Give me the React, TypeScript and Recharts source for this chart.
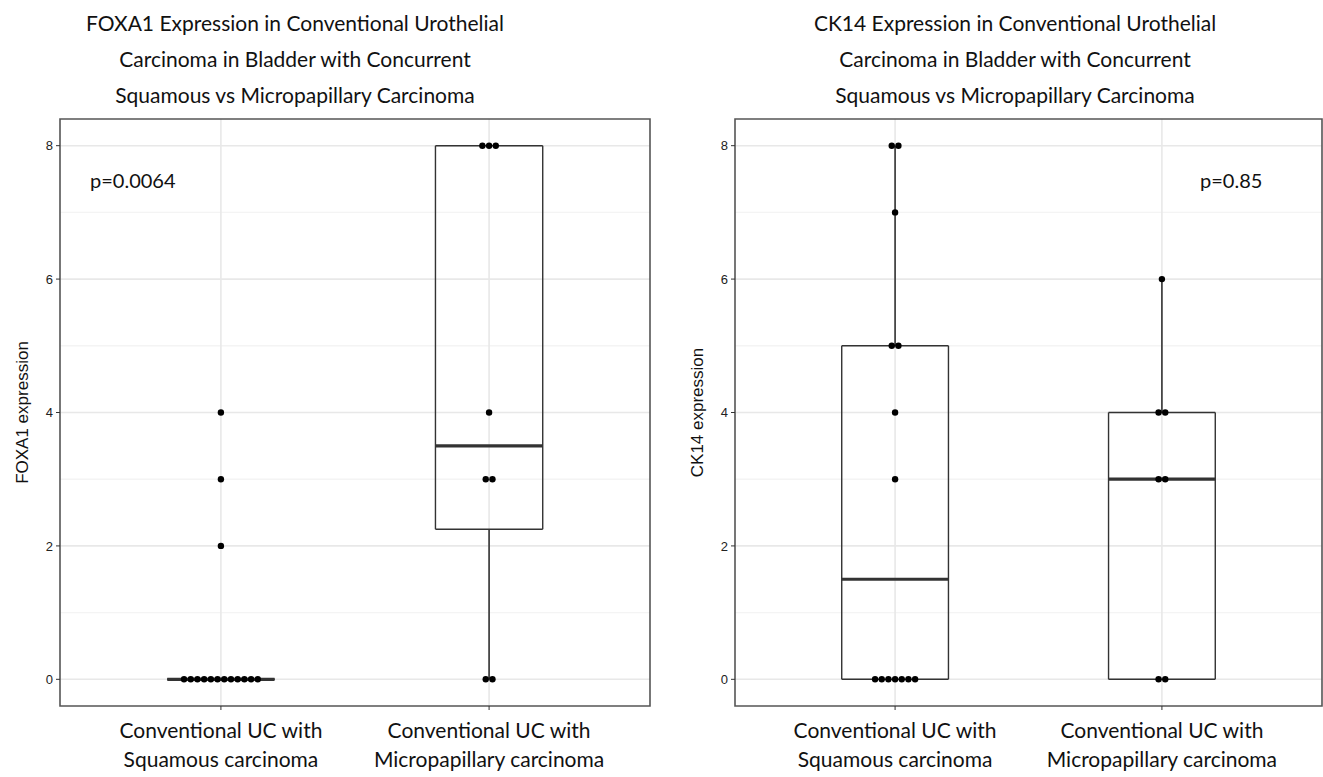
import React from 'react';
import {
  ScatterChart,
  Scatter,
  XAxis,
  YAxis,
  CartesianGrid,
  ReferenceLine,
  ReferenceArea,
} from 'recharts';

// x-axis categories (two lines each)
const categoryLine1 = ['Conventional UC with', 'Conventional UC with'];
const categoryLine2 = ['Squamous carcinoma', 'Micropapillary carcinoma'];

// individual scores, per group
const foxa1Squamous = [0, 0, 0, 0, 0, 0, 0, 0, 0, 0, 0, 0, 2, 3, 4];
const foxa1Micropapillary = [0, 0, 3, 3, 4, 8, 8, 8];
const ck14Squamous = [0, 0, 0, 0, 0, 0, 0, 3, 4, 5, 5, 7, 8, 8];
const ck14Micropapillary = [0, 0, 3, 3, 4, 4, 6];

// box stats: [lower whisker, q1, median, q3, upper whisker]
const foxa1Boxes = [
  [0, 0, 0, 0, 0],
  [0, 2.25, 3.5, 8, 8],
];
const ck14Boxes = [
  [0, 0, 1.5, 5, 8],
  [0, 0, 3, 4, 6],
];

const yTicks = [0, 2, 4, 6, 8];
const yMinor = [1, 3, 5, 7];

const titleFont = 'Lato, "Open Sans", sans-serif';
const axisFont = '"Liberation Sans", Arial, sans-serif';
const ink = '#333333';
const DOT_STEP = 0.025;
const BOX_HW = 0.2;

// stack equal values side by side, centred on the category
function stackDots(groups: number[][]) {
  const pts: { x: number; y: number }[] = [];
  groups.forEach((vals, gi) => {
    const counts: Record<number, number> = {};
    vals.forEach((v) => (counts[v] = (counts[v] || 0) + 1));
    const seen: Record<number, number> = {};
    vals.forEach((v) => {
      const k = seen[v] || 0;
      seen[v] = k + 1;
      pts.push({ x: gi + 1 + (k - (counts[v] - 1) / 2) * DOT_STEP, y: v });
    });
  });
  return pts;
}

function boxSegments(boxes: number[][]) {
  const segs: { pts: { x: number; y: number }[]; w: number }[] = [];
  boxes.forEach(([lo, q1, med, q3, hi], gi) => {
    const x = gi + 1;
    const l = x - BOX_HW;
    const r = x + BOX_HW;
    if (q1 > lo) segs.push({ pts: [{ x, y: lo }, { x, y: q1 }], w: 1.6 });
    if (hi > q3) segs.push({ pts: [{ x, y: q3 }, { x, y: hi }], w: 1.6 });
    segs.push({ pts: [{ x: l, y: q1 }, { x: r, y: q1 }], w: 1.4 });
    segs.push({ pts: [{ x: l, y: q3 }, { x: r, y: q3 }], w: 1.4 });
    if (q3 > q1) {
      segs.push({ pts: [{ x: l, y: q1 }, { x: l, y: q3 }], w: 1.4 });
      segs.push({ pts: [{ x: r, y: q1 }, { x: r, y: q3 }], w: 1.4 });
    }
    segs.push({ pts: [{ x: l, y: med }, { x: r, y: med }], w: 3.2 });
  });
  return segs;
}

const CategoryTick = (props: any) => {
  const { x, y, payload } = props;
  const i = Math.round(payload.value) - 1;
  return (
    <g transform={`translate(${x},${y})`}>
      <text textAnchor="middle" y={26} fontSize={21} fontFamily={titleFont} fill="#111">
        {categoryLine1[i]}
      </text>
      <text textAnchor="middle" y={55} fontSize={21} fontFamily={titleFont} fill="#111">
        {categoryLine2[i]}
      </text>
    </g>
  );
};

function Panel({
  groups,
  boxes,
  yLabel,
  width,
  right,
}: {
  groups: number[][];
  boxes: number[][];
  yLabel: string;
  width: number;
  right: number;
}) {
  const dots = stackDots(groups);
  const segs = boxSegments(boxes);
  return (
    <ScatterChart
      width={width}
      height={777}
      margin={{ top: 119, right, bottom: 0, left: 0 }}
    >
      <CartesianGrid
        horizontalValues={yMinor}
        verticalValues={[]}
        vertical={false}
        stroke="#f4f4f4"
        strokeWidth={1.4}
      />
      <CartesianGrid
        horizontalValues={yTicks}
        verticalValues={[1, 2]}
        stroke="#e8e8e8"
        strokeWidth={1.6}
      />
      <XAxis
        type="number"
        dataKey="x"
        domain={[0.4, 2.6]}
        ticks={[1, 2]}
        allowDataOverflow
        height={71}
        axisLine={false}
        tickSize={4}
        tickLine={{ stroke: ink }}
        tick={<CategoryTick />}
        interval={0}
      />
      <YAxis
        type="number"
        dataKey="y"
        domain={[-0.4, 8.4]}
        ticks={yTicks}
        allowDataOverflow
        width={60}
        axisLine={false}
        tickSize={4}
        tickMargin={3}
        tickLine={{ stroke: ink }}
        tick={{ fontSize: 13, fontFamily: axisFont, fill: '#222' }}
        label={{
          content: ({ viewBox }: any) => {
            const cx = viewBox.x + 22;
            const cy = viewBox.y + viewBox.height / 2;
            return (
              <text
                x={cx}
                y={cy}
                transform={`rotate(-90, ${cx}, ${cy})`}
                textAnchor="middle"
                dominantBaseline="central"
                fontSize={17}
                fontFamily={axisFont}
                fill="#111"
              >
                {yLabel}
              </text>
            );
          },
        }}
      />
      {segs.map((s, i) => (
        <ReferenceLine
          key={`seg-${i}`}
          segment={s.pts}
          stroke={ink}
          strokeWidth={s.w}
          ifOverflow="visible"
        />
      ))}
      <ReferenceArea
        x1={0.4}
        x2={2.6}
        y1={-0.4}
        y2={8.4}
        fill="none"
        fillOpacity={0}
        stroke="#555"
        strokeWidth={1.6}
        ifOverflow="visible"
      />
      <Scatter
        data={dots}
        fill="#000"
        isAnimationActive={false}
        shape={(p: any) => <circle cx={p.cx} cy={p.cy} r={3.2} fill="#000" />}
      />
    </ScatterChart>
  );
}

const titleStyle: React.CSSProperties = {
  position: 'absolute',
  top: 5,
  width: 600,
  textAlign: 'center',
  whiteSpace: 'nowrap',
  fontFamily: titleFont,
  fontSize: 21,
  lineHeight: '36px',
  color: '#111',
};

const pStyle: React.CSSProperties = {
  position: 'absolute',
  top: 168,
  fontFamily: titleFont,
  fontSize: 20,
  color: '#111',
  whiteSpace: 'nowrap',
};

export default function App() {
  return (
    <div
      style={{
        position: 'absolute',
        left: 0,
        top: 0,
        width: 1323,
        height: 777,
        background: '#fff',
        overflow: 'hidden',
      }}
    >
      <div style={{ position: 'absolute', left: 0, top: 0 }}>
        <Panel
          groups={[foxa1Squamous, foxa1Micropapillary]}
          boxes={foxa1Boxes}
          yLabel="FOXA1 expression"
          width={660}
          right={10}
        />
      </div>
      <div style={{ position: 'absolute', left: 675, top: 0 }}>
        <Panel
          groups={[ck14Squamous, ck14Micropapillary]}
          boxes={ck14Boxes}
          yLabel="CK14 expression"
          width={648}
          right={1}
        />
      </div>
      <div style={{ ...titleStyle, left: 295 - 300 }}>
        FOXA1 Expression in Conventional Urothelial
        <br />
        Carcinoma in Bladder with Concurrent
        <br />
        Squamous vs Micropapillary Carcinoma
      </div>
      <div style={{ ...titleStyle, left: 1015 - 300 }}>
        CK14 Expression in Conventional Urothelial
        <br />
        Carcinoma in Bladder with Concurrent
        <br />
        Squamous vs Micropapillary Carcinoma
      </div>
      <div style={{ ...pStyle, left: 90 }}>p=0.0064</div>
      <div style={{ ...pStyle, left: 1200 }}>p=0.85</div>
    </div>
  );
}
